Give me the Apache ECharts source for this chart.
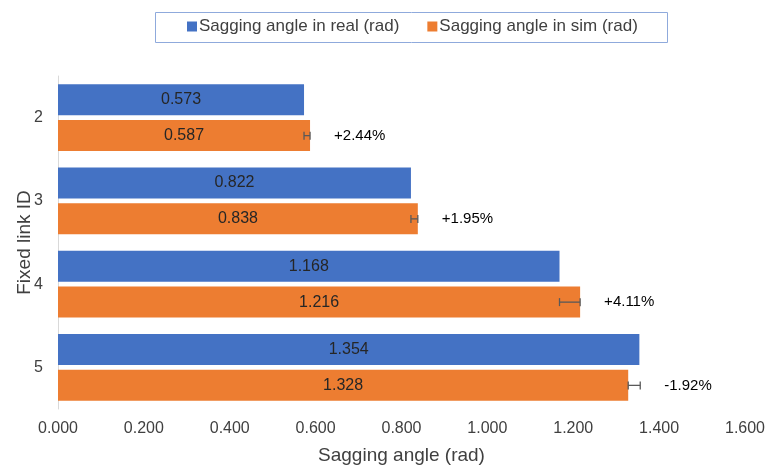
<!DOCTYPE html>
<html>
<head>
<meta charset="utf-8">
<script src="https://cdn.jsdelivr.net/npm/echarts@6/dist/echarts.min.js"></script>
<style>html,body{margin:0;padding:0;background:#fff}#c{width:765px;height:465px}</style>
</head>
<body>
<div id="c"></div>
<script>
var categories = ['2', '3', '4', '5'];
var realValues = [0.573, 0.822, 1.168, 1.354];
var simValues = [0.587, 0.838, 1.216, 1.328];
var errLow = [0.573, 0.822, 1.168, 1.328];
var errHigh = [0.587, 0.838, 1.216, 1.356];
var pctLabels = ['+2.44%', '+1.95%', '+4.11%', '-1.92%'];
var xTicks = [0, 0.2, 0.4, 0.6, 0.8, 1.0, 1.2, 1.4, 1.6];

var FONT = '"Liberation Sans", Arial, sans-serif';
var chart = echarts.init(document.getElementById('c'));

var errData = categories.map(function (c, i) { return [i, errLow[i], errHigh[i], pctLabels[i]]; });

chart.setOption({
  animation: false,
  graphic: [{
    type: 'rect', left: 153, top: 10,
    shape: { width: 512, height: 30 },
    style: { fill: 'none', stroke: '#8faadc', lineWidth: 1 }
  }],
  legend: {
    top: 13, left: 182, itemWidth: 10, itemHeight: 10, itemGap: 28,
    icon: 'rect',
    textStyle: { fontFamily: FONT, fontSize: 17, color: '#404040', padding: [0, 0, 0, -3] },
    data: ['Sagging angle in real (rad)', 'Sagging angle in sim (rad)']
  },
  grid: { left: 58, right: 20, top: 76, bottom: 56, containLabel: false, outerBoundsMode: 'none' },
  xAxis: {
    type: 'value', min: 0, max: 1.6, interval: 0.2,
    name: 'Sagging angle (rad)', nameLocation: 'middle', nameGap: 37, nameMoveOverlap: false,
    nameTextStyle: { fontFamily: FONT, fontSize: 19, color: '#404040' },
    axisLine: { show: false }, axisTick: { show: false },
    splitLine: { show: false },
    axisLabel: { fontFamily: FONT, fontSize: 16, color: '#404040', margin: 12,
      formatter: function (v) { return v.toFixed(3); } }
  },
  yAxis: {
    type: 'category', data: categories, inverse: true,
    name: 'Fixed link ID', nameLocation: 'middle', nameGap: 24, nameMoveOverlap: false,
    nameTextStyle: { fontFamily: FONT, fontSize: 19, color: '#404040' },
    axisLine: { show: true, lineStyle: { color: '#d9d9d9', width: 1 } },
    axisTick: { show: false },
    axisLabel: { fontFamily: FONT, fontSize: 16, color: '#404040', margin: 15 }
  },
  series: [
    {
      name: 'Sagging angle in real (rad)', type: 'bar', data: realValues,
      barWidth: 31, barGap: '16%',
      itemStyle: { color: '#4472c4' },
      label: { show: true, position: 'inside', fontFamily: FONT, fontSize: 16, color: '#262626',
        formatter: function (p) { return p.value.toFixed(3); } }
    },
    {
      name: 'Sagging angle in sim (rad)', type: 'bar', data: simValues,
      barWidth: 31,
      itemStyle: { color: '#ed7d31' },
      label: { show: true, position: 'inside', fontFamily: FONT, fontSize: 16, color: '#262626',
        formatter: function (p) { return p.value.toFixed(3); } }
    },
    {
      type: 'custom', data: errData, z: 10,
      encode: { x: [1, 2], y: 0 },
      renderItem: function (params, api) {
        var ci = api.value(0);
        var lo = api.coord([api.value(1), ci]);
        var hi = api.coord([api.value(2), ci]);
        var y = lo[1] + 2.5 + 15.5;
        var cap = 4;
        var st = { stroke: '#595959', lineWidth: 1.3 };
        return {
          type: 'group',
          children: [
            { type: 'line', shape: { x1: lo[0], y1: y, x2: hi[0], y2: y }, style: st },
            { type: 'line', shape: { x1: lo[0], y1: y - cap, x2: lo[0], y2: y + cap }, style: st },
            { type: 'line', shape: { x1: hi[0], y1: y - cap, x2: hi[0], y2: y + cap }, style: st },
            { type: 'text', x: hi[0] + 24, y: y,
              style: { text: api.value(3), fontFamily: FONT, fontSize: 15, fill: '#000',
                textAlign: 'left', textVerticalAlign: 'middle' } }
          ]
        };
      }
    }
  ]
});
</script>
</body>
</html>
